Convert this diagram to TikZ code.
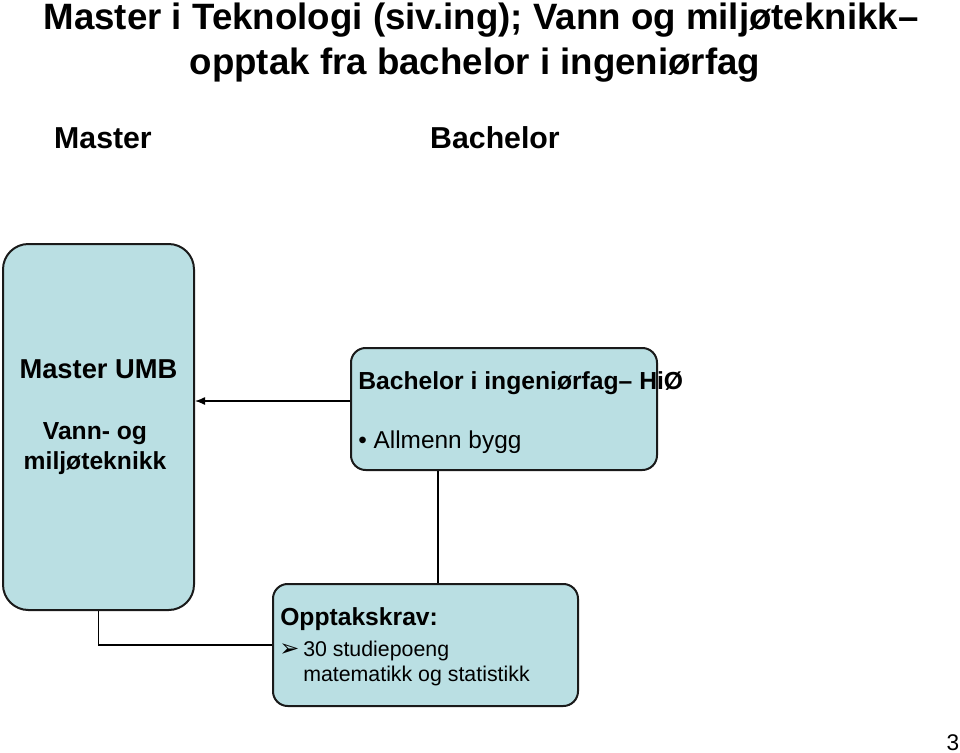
\documentclass[tikz,border=0pt]{standalone}
\usepackage{fontspec}
\setmainfont{Liberation Sans}
\newfontfamily\symfont{DejaVu Sans}
\usetikzlibrary{arrows.meta,positioning,calc}
\definecolor{ink}{HTML}{000000}
\definecolor{boxFill}{HTML}{BADFE3}
\definecolor{boxLine}{HTML}{1A1A1A}
\tikzset{
  >={Latex[length=7.5pt,width=6pt]},
  ttl/.style={font=\fontsize{27.5}{33}\selectfont\bfseries,text=ink,inner sep=0pt,anchor=base},
  collab/.style={font=\fontsize{22.7}{27}\selectfont\bfseries,text=ink,inner sep=0pt,anchor=base},
  prog/.style={draw=boxLine,fill=boxFill,line width=1.5pt,rounded corners=11pt,inner sep=0pt},
  head/.style={font=\fontsize{18.5}{22}\selectfont\bfseries,text=ink,inner sep=0pt,anchor=base west},
  item/.style={font=\fontsize{18.3}{22}\selectfont,text=ink,inner sep=0pt,anchor=base west},
  small/.style={font=\fontsize{16}{19}\selectfont,text=ink,inner sep=0pt,anchor=base west},
  link/.style={draw=ink,line width=1pt},
}

\begin{document}
\begin{tikzpicture}[x=0.75pt,y=-0.75pt]
\useasboundingbox (0,0) rectangle (960,753);

% ================= TITLE =================
\node[ttl] (t1) at (481,29) {Master i Teknologi (siv.ing); Vann og miljøteknikk–};
\node[ttl] (t2) at (475,74) {opptak fra bachelor i ingeniørfag};
\node[collab] (cm) at (103,148) {Master};
\node[collab] (cb) at (495,148) {Bachelor};

% ================= BOXES =================
\node[prog,rounded corners=19pt,minimum width=191*0.75pt,minimum height=366*0.75pt] (umb) at (98.5,427) {};
\node[font=\fontsize{20.5}{25}\selectfont\bfseries,inner sep=0pt,anchor=base] (umbT) at (98.5,378) {Master UMB};
\node[font=\fontsize{18.5}{22.5}\selectfont\bfseries,inner sep=0pt,align=center,anchor=base] (umbS) at (95,469) {Vann- og\\miljøteknikk};

\node[prog,minimum width=306*0.75pt,minimum height=122*0.75pt] (bach) at (504,409) {};
\node[head] (bachT) at (358,389) {Bachelor i ingeniørfag– HiØ};
\node[item] (bachI) at (358,448) {• Allmenn bygg};

\node[prog,minimum width=305*0.75pt,minimum height=122*0.75pt] (krav) at (425.5,645) {};
\node[head] (kravT) at (280,625) {Opptakskrav:};
\node[small] (kravM) at (279,656) {\symfont\fontsize{18}{20}\selectfont ➢};
\node[small] (kravA) at (303,656) {30 studiepoeng};
\node[small] (kravB) at (303,681) {matematikk og statistikk};

% ================= LINKS =================
\draw[link,->] ([yshift=6pt]bach.west) -- ([yshift=6pt]bach.west -| umb.east);
\coordinate (drop) at (438,470);
\draw[link] (bach.south -| drop) -- (krav.north -| drop);
\draw[link] (umb.south) |- (krav.west);

\node[font=\fontsize{17}{20}\selectfont,inner sep=0pt,anchor=base] (pg) at (953,750) {3};

\end{tikzpicture}
\end{document}
